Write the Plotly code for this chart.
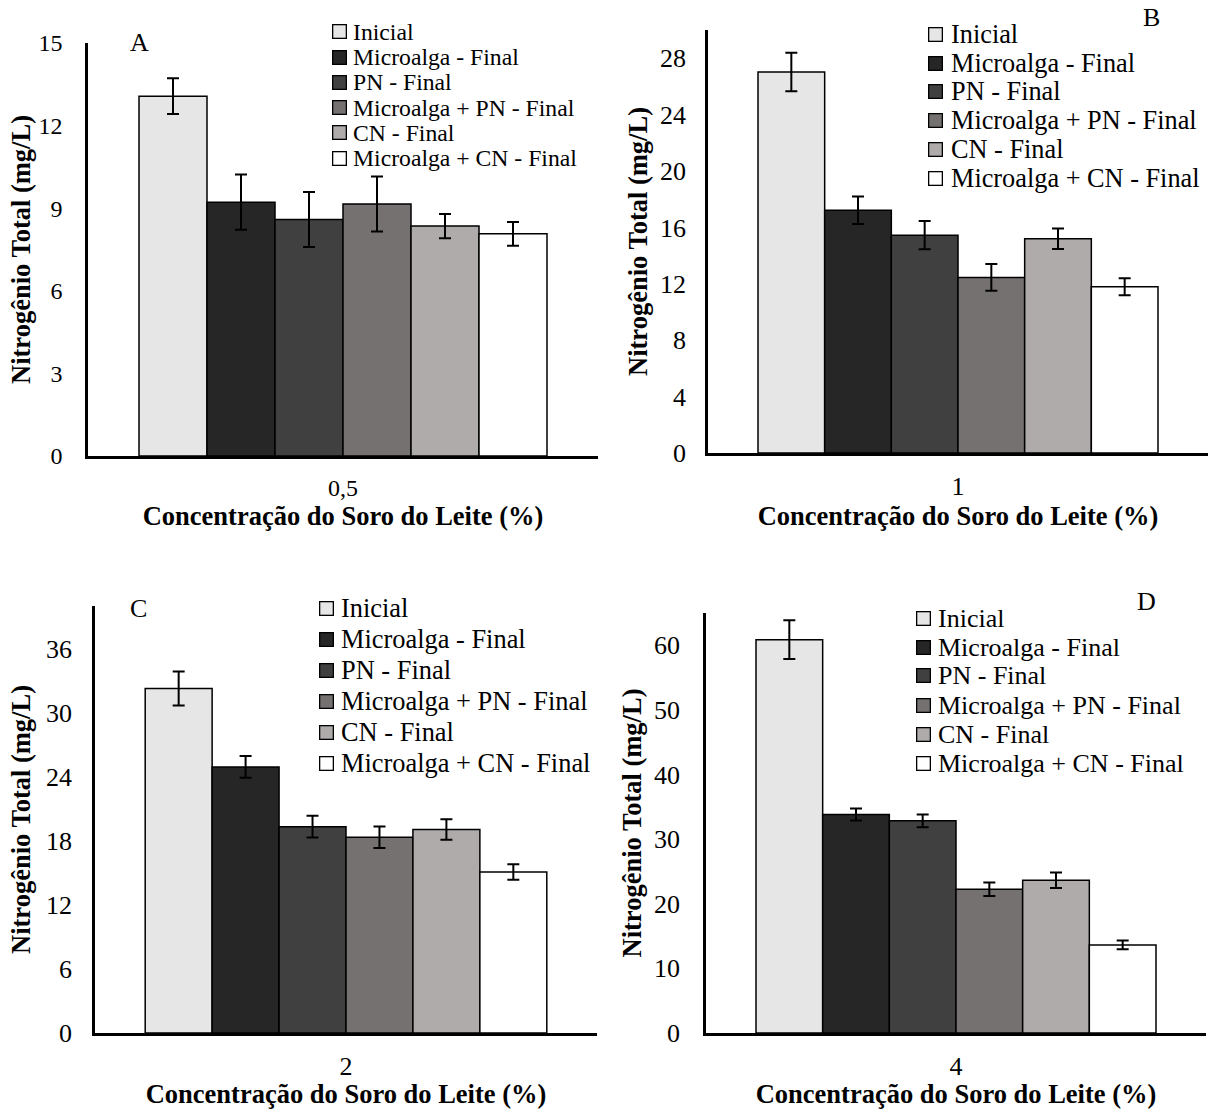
import plotly.graph_objects as go

# ---------------- data ----------------
series_names = ["Inicial", "Microalga - Final", "PN - Final",
                "Microalga + PN - Final", "CN - Final", "Microalga + CN - Final"]
concentrations = ["0,5", "1", "2", "4"]
panel_labels = ["A", "B", "C", "D"]

values_05 = [13.07, 9.22, 8.59, 9.15, 8.35, 8.07]
errors_05 = [0.65, 1.00, 1.00, 1.00, 0.44, 0.43]
values_1 = [27.02, 17.22, 15.45, 12.45, 15.19, 11.79]
errors_1 = [1.36, 0.97, 1.00, 0.95, 0.73, 0.61]
values_2 = [32.27, 24.92, 19.33, 18.34, 19.07, 15.08]
errors_2 = [1.60, 1.02, 1.02, 1.00, 0.96, 0.73]
values_4 = [60.87, 33.82, 32.83, 22.25, 23.64, 13.63]
errors_4 = [3.00, 0.93, 1.00, 1.03, 1.19, 0.67]

y_ranges = [[0, 15], [0, 30], [0, 40], [0, 65]]
y_dticks = [3, 4, 6, 10]

x_title = "Concentração do Soro do Leite (%)"
y_title = "Nitrogênio Total (mg/L)"

# ---------------- styles ----------------
colors = ["#e6e6e6", "#262626", "#404040", "#767171", "#afabab", "#ffffff"]
FONT = "Liberation Serif, Times New Roman, serif"
W, H = 1214, 1109

# pixel geometry of each panel
geom = [
    dict(x0=88, x1=598, yt=43, yb=456, tick=24, tstand=18, ystand=1, leg_box=332, leg_text=351,
         leg_y0=31.7, leg_dy=25.3, leg_font=23.7, lab=(139, 42)),
    dict(x0=708, x1=1208, yt=30, yb=453, tick=26, tstand=14, ystand=5, leg_box=928, leg_text=949,
         leg_y0=34.3, leg_dy=28.8, leg_font=26.3, lab=(1151, 18)),
    dict(x0=95, x1=597, yt=606, yb=1033, tick=26, tstand=15, ystand=8, leg_box=319, leg_text=339,
         leg_y0=608, leg_dy=31.0, leg_font=26.4, lab=(138, 608)),
    dict(x0=706, x1=1206, yt=613, yb=1033, tick=26, tstand=18, ystand=5, leg_box=916, leg_text=936,
         leg_y0=618, leg_dy=29.0, leg_font=26.0, lab=(1146, 601)),
]

panel_values = [values_05, values_1, values_2, values_4]
panel_errors = [errors_05, errors_1, errors_2, errors_4]

fig = go.Figure()
annotations = []

def px_x(v):
    return v / W

def px_y(v):
    return 1 - v / H

for p in range(4):
    suffix = "" if p == 0 else str(p + 1)
    g = geom[p]
    for i, name in enumerate(series_names):
        fig.add_trace(go.Bar(
            x=[concentrations[p]], y=[panel_values[p][i]], name=name,
            marker=dict(color=colors[i], line=dict(color="black", width=1.5)),
            error_y=dict(type="data", array=[panel_errors[p][i]], color="black",
                         thickness=2, width=6),
            xaxis="x" + suffix, yaxis="y" + suffix, showlegend=False,
            offsetgroup=str(i),
        ))
    fig.layout["xaxis" + suffix] = dict(
        domain=[px_x(g["x0"]), px_x(g["x1"])], anchor="y" + suffix,
        type="category", showline=True, linecolor="black", linewidth=2.5,
        ticks="", tickfont=dict(family=FONT, size=g["tick"], color="black"),
        ticklabelstandoff=8, showgrid=False, zeroline=False, automargin=False,
        title=dict(text="<b>" + x_title + "</b>", standoff=0,
                   font=dict(family=FONT, size=26.5, color="black")),
    )
    fig.layout["yaxis" + suffix] = dict(
        domain=[px_y(g["yb"]), px_y(g["yt"])], anchor="x" + suffix,
        range=y_ranges[p], dtick=y_dticks[p], tick0=0,
        showline=True, linecolor="black", linewidth=2.5,
        ticks="", tickfont=dict(family=FONT, size=g["tick"], color="black"),
        ticklabelstandoff=g["tstand"], showgrid=False, zeroline=False, automargin=False,
        title=dict(text="<b>" + y_title + "</b>", standoff=g["ystand"],
                   font=dict(family=FONT, size=26.5, color="black")),
    )
    # panel letter
    annotations.append(dict(
        text=panel_labels[p], x=px_x(g["lab"][0]), y=px_y(g["lab"][1]),
        xref="paper", yref="paper", showarrow=False, xanchor="center", yanchor="middle",
        font=dict(family=FONT, size=26, color="black"),
    ))
    # legend (boxes + labels)
    for i, name in enumerate(series_names):
        yy = g["leg_y0"] + i * g["leg_dy"]
        annotations.append(dict(
            text=" ", x=px_x(g["leg_box"]), y=px_y(yy), xref="paper", yref="paper",
            showarrow=False, xanchor="left", yanchor="middle",
            width=12, height=12, borderpad=0, borderwidth=1.3,
            bordercolor="black", bgcolor=colors[i], font=dict(size=4),
        ))
        annotations.append(dict(
            text=name, x=px_x(g["leg_text"]), y=px_y(yy), xref="paper", yref="paper",
            showarrow=False, xanchor="left", yanchor="middle",
            font=dict(family=FONT, size=g["leg_font"], color="black"),
        ))

fig.update_layout(
    width=W, height=H, margin=dict(l=0, r=0, t=0, b=0, autoexpand=False),
    paper_bgcolor="white", plot_bgcolor="white",
    barmode="group", bargap=0.2, bargroupgap=0,
    annotations=annotations,
    font=dict(family=FONT, color="black"),
)

fig.write_html("out.html")
